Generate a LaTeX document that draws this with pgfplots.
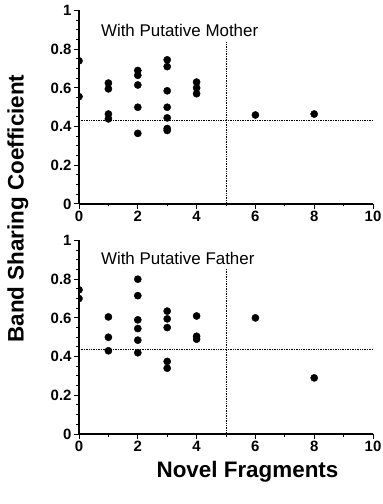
\documentclass[border=0pt]{standalone}
\usepackage{pgfplots}
\pgfplotsset{compat=1.18}
\usepackage{fontspec}
\setmainfont{Liberation Sans}
\pgfplotstableread{
x y
0 0.74
0 0.555
1 0.625
1 0.595
1 0.465
1 0.44
2 0.69
2 0.665
2 0.615
2 0.50
2 0.365
3 0.745
3 0.71
3 0.585
3 0.50
3 0.445
3 0.39
3 0.38
4 0.63
4 0.60
4 0.57
6 0.46
8 0.465
}\mother
\pgfplotstableread{
x y
0 0.745
0 0.70
1 0.605
1 0.50
1 0.43
2 0.80
2 0.715
2 0.59
2 0.545
2 0.485
2 0.42
3 0.635
3 0.595
3 0.55
3 0.375
3 0.34
4 0.61
4 0.505
4 0.49
6 0.60
8 0.29
}\father
\pgfplotsset{
  panel/.style={
    scale only axis, width=294bp, height=193.5bp,
    anchor=south west,
    xmin=0, xmax=10, ymin=0, ymax=1,
    axis lines=left,
    axis line style={-, line width=1.1pt},
    xtick={0,2,...,10}, minor xtick={1,3,...,9},
    ytick={0,0.2,...,1}, minor ytick={0.05,0.1,...,0.96},
    tick align=outside,
    major tick length=5bp, minor tick length=2.5bp,
    tick style={line width=1pt, black},
    /pgf/number format/assume math mode=true,
    ticklabel style={font=\bfseries\fontsize{15}{15}\selectfont},
    xticklabel style={yshift=1bp},
    yticklabel style={xshift=1bp},
    clip marker paths=true,
  },
}
\begin{document}
\begin{tikzpicture}
\path[use as bounding box] (0,0) rectangle (383bp,504bp);
\begin{axis}[panel, at={(79bp,300bp)}]
\addplot[black, line width=0.7pt, densely dotted] coordinates {(0,0.434) (10,0.434)};
\addplot[black, line width=0.7pt, densely dotted] coordinates {(5,0) (5,0.84)};
\addplot[only marks, mark=*, mark size=3.6bp, black] table[x=x,y=y] {\mother};
\node[anchor=base west, font=\fontsize{17}{18}\selectfont] at (axis cs:0.63,0.865) {With Putative Mother};
\end{axis}
\begin{axis}[panel, at={(79bp,70bp)}]
\addplot[black, line width=0.7pt, densely dotted] coordinates {(0,0.44) (10,0.44)};
\addplot[black, line width=0.7pt, densely dotted] coordinates {(5,0) (5,0.857)};
\addplot[only marks, mark=*, mark size=3.6bp, black] table[x=x,y=y] {\father};
\node[anchor=base west, font=\fontsize{17}{18}\selectfont] at (axis cs:0.63,0.878) {With Putative Father};
\end{axis}
\node[anchor=base, font=\bfseries\fontsize{22.5}{24}\selectfont] at (247.5bp,27bp) {Novel Fragments};
\node[anchor=base, rotate=90, font=\bfseries\fontsize{22.5}{24}\selectfont] at (23.5bp,295.5bp) {Band Sharing Coefficient};
\end{tikzpicture}
\end{document}
